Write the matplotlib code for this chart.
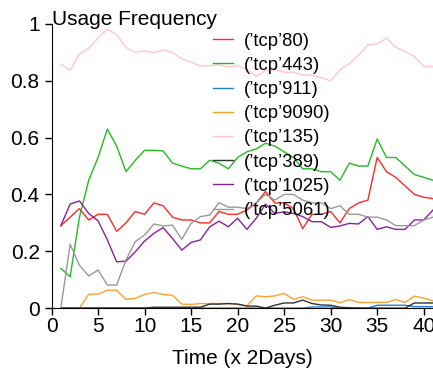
import numpy as np
import matplotlib.pyplot as plt

plt.rcParams['font.family'] = ['Liberation Sans', 'DejaVu Sans']

days = np.arange(1, 42)

ports = ["(’tcp’80)", "(’tcp’443)", "(’tcp’911)", "(’tcp’9090)",
         "(’tcp’135)", "(’tcp’389)", "(’tcp’1025)", "(’tcp’5061)"]

tcp80 = [0.29, 0.32, 0.35, 0.31, 0.33, 0.33, 0.27, 0.30, 0.34, 0.33,
         0.37, 0.36, 0.32, 0.31, 0.31, 0.30, 0.30, 0.34, 0.33, 0.33,
         0.345, 0.37, 0.41, 0.37, 0.37, 0.35, 0.28, 0.33, 0.33, 0.34,
         0.30, 0.35, 0.37, 0.38, 0.53, 0.48, 0.46, 0.43, 0.40, 0.39, 0.385]
tcp443 = [0.14, 0.11, 0.32, 0.45, 0.53, 0.63, 0.57, 0.48, 0.52, 0.555,
          0.555, 0.553, 0.51, 0.50, 0.49, 0.49, 0.52, 0.51, 0.49, 0.53,
          0.55, 0.56, 0.58, 0.57, 0.55, 0.53, 0.49, 0.49, 0.48, 0.48,
          0.45, 0.51, 0.50, 0.50, 0.595, 0.53, 0.53, 0.50, 0.47, 0.46, 0.45]
tcp911 = [0, 0, 0, 0, 0, 0, 0, 0, 0, 0,
          0, 0, 0, 0, 0, 0, 0, 0, 0, 0,
          0, 0, 0, 0, 0, 0, 0, 0.004, 0.004, 0.004,
          0, 0, 0, 0, 0.01, 0.01, 0.01, 0.01, 0.005, 0.005, 0.005]
tcp9090 = [0, 0, 0, 0.049, 0.049, 0.063, 0.063, 0.031, 0.034, 0.048,
           0.055, 0.048, 0.045, 0.014, 0.013, 0.016, 0.016, 0.016, 0.016, 0.014,
           0.008, 0.043, 0.04, 0.043, 0.052, 0.031, 0.04, 0.028, 0.028, 0.028,
           0.019, 0.03, 0.02, 0.02, 0.02, 0.02, 0.03, 0.02, 0.042, 0.035, 0.026]
tcp135 = [0.858, 0.837, 0.893, 0.914, 0.95, 0.981, 0.962, 0.917, 0.90, 0.905,
          0.898, 0.908, 0.90, 0.876, 0.866, 0.851, 0.853, 0.856, 0.849, 0.853,
          0.84, 0.815, 0.836, 0.84, 0.83, 0.83, 0.82, 0.82, 0.81, 0.80,
          0.838, 0.86, 0.89, 0.926, 0.93, 0.95, 0.918, 0.903, 0.885, 0.85, 0.85]
tcp389 = [0, 0, 0, 0, 0, 0, 0, 0, 0, 0,
          0.003, 0.003, 0.003, 0.003, 0.003, 0.003, 0.014, 0.014, 0.016, 0.014,
          0.007, 0.007, 0, 0.01, 0.018, 0.018, 0.028, 0.016, 0.011, 0.01,
          0.003, 0.001, 0, 0, 0, 0, 0, 0, 0.018, 0.018, 0.018]
tcp1025 = [0.29, 0.366, 0.377, 0.333, 0.307, 0.24, 0.163, 0.165, 0.198, 0.236,
           0.263, 0.283, 0.245, 0.204, 0.231, 0.24, 0.286, 0.306, 0.286, 0.316,
           0.277, 0.316, 0.366, 0.333, 0.339, 0.333, 0.322, 0.304, 0.304, 0.284,
           0.289, 0.298, 0.296, 0.322, 0.277, 0.286, 0.277, 0.277, 0.31, 0.31, 0.345]
tcp5061 = [0, 0.225, 0.151, 0.113, 0.134, 0.081, 0.081, 0.169, 0.234, 0.257,
           0.296, 0.289, 0.292, 0.242, 0.298, 0.322, 0.327, 0.371, 0.355, 0.355,
           0.35, 0.37, 0.40, 0.38, 0.40, 0.40, 0.38, 0.37, 0.37, 0.35,
           0.36, 0.33, 0.33, 0.32, 0.32, 0.31, 0.29, 0.29, 0.29, 0.31, 0.32]

series = [tcp80, tcp443, tcp911, tcp9090, tcp135, tcp389, tcp1025, tcp5061]
colors = ['#ff2a2a', '#22bb22', '#2080e0', '#ffa030',
          '#ffc8c8', '#333333', '#882299', '#999999']

fig = plt.figure(figsize=(4.33, 3.73), dpi=100)
ax = fig.add_axes([0.119, 0.174, 0.881, 0.762])

for name, vals, c in zip(ports, series, colors):
    ax.plot(days, vals, color=c, lw=1.0, label=name)

ax.set_xlim(0, 41)
ax.set_ylim(0, 1)
ax.set_xticks([0, 5, 10, 15, 20, 25, 30, 35, 40])
ax.set_yticks([0, 0.2, 0.4, 0.6, 0.8, 1])
ax.set_yticklabels(['0', '0.2', '0.4', '0.6', '0.8', '1'])
ax.tick_params(labelsize=15, length=5, width=1)
ax.tick_params(axis='x', pad=1.5)
ax.spines['top'].set_visible(False)
ax.spines['right'].set_visible(False)
ax.set_xlabel('Time (x 2Days)', fontsize=15, labelpad=9)
fig.text(0.121, 0.932, 'Usage Frequency', fontsize=15, ha='left', va='baseline')

ax.legend(loc='upper left', bbox_to_anchor=(0.424, 0.969), frameon=False,
          fontsize=13.3, handlelength=1.05, handletextpad=0.6,
          labelspacing=0.39, borderpad=0, borderaxespad=0)

fig.savefig('out.png', dpi=100)
